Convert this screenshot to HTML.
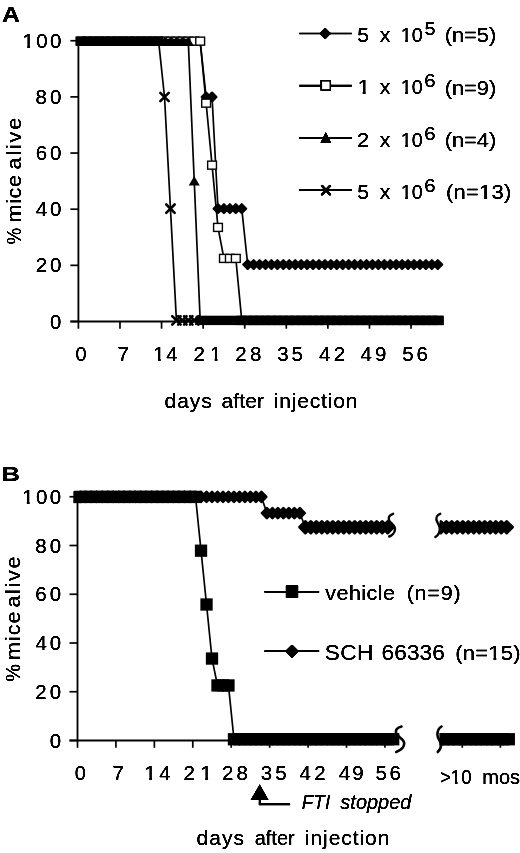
<!DOCTYPE html>
<html lang="en">
<head>
<meta charset="utf-8">
<title>Survival curves</title>
<style>
html,body{margin:0;padding:0;background:#fff;}
body{width:520px;height:853px;overflow:hidden;}
svg{display:block;}
svg text{font-family:'Liberation Sans', sans-serif;fill:#000;}
</style>
</head>
<body>
<svg width="520" height="853" viewBox="0 0 520 853">
<defs>
<filter id="bold" filterUnits="userSpaceOnUse" x="0" y="0" width="520" height="853"><feGaussianBlur stdDeviation="0.5"/><feComponentTransfer><feFuncA type="linear" slope="2.5" intercept="-0.2"/></feComponentTransfer></filter>
<clipPath id="clipR"><rect x="439.6" y="480" width="90" height="300"/></clipPath>
</defs>
<rect width="520" height="853" fill="#fff"/>
<g id="panelA">
<line x1="78.40" y1="40.25" x2="78.40" y2="322.25" stroke="#000" stroke-width="1.85"/>
<line x1="70.40" y1="321.50" x2="440.74" y2="321.50" stroke="#000" stroke-width="1.85"/>
<line x1="70.40" y1="321.50" x2="78.40" y2="321.50" stroke="#000" stroke-width="1.7"/>
<line x1="70.40" y1="265.35" x2="78.40" y2="265.35" stroke="#000" stroke-width="1.7"/>
<line x1="70.40" y1="209.20" x2="78.40" y2="209.20" stroke="#000" stroke-width="1.7"/>
<line x1="70.40" y1="153.05" x2="78.40" y2="153.05" stroke="#000" stroke-width="1.7"/>
<line x1="70.40" y1="96.90" x2="78.40" y2="96.90" stroke="#000" stroke-width="1.7"/>
<line x1="70.40" y1="40.75" x2="78.40" y2="40.75" stroke="#000" stroke-width="1.7"/>
<line x1="78.40" y1="321.50" x2="78.40" y2="328.70" stroke="#000" stroke-width="1.7"/>
<line x1="119.98" y1="321.50" x2="119.98" y2="328.70" stroke="#000" stroke-width="1.7"/>
<line x1="161.56" y1="321.50" x2="161.56" y2="328.70" stroke="#000" stroke-width="1.7"/>
<line x1="203.14" y1="321.50" x2="203.14" y2="328.70" stroke="#000" stroke-width="1.7"/>
<line x1="244.72" y1="321.50" x2="244.72" y2="328.70" stroke="#000" stroke-width="1.7"/>
<line x1="286.30" y1="321.50" x2="286.30" y2="328.70" stroke="#000" stroke-width="1.7"/>
<line x1="327.88" y1="321.50" x2="327.88" y2="328.70" stroke="#000" stroke-width="1.7"/>
<line x1="369.46" y1="321.50" x2="369.46" y2="328.70" stroke="#000" stroke-width="1.7"/>
<line x1="411.04" y1="321.50" x2="411.04" y2="328.70" stroke="#000" stroke-width="1.7"/>
<polyline points="81.37,41.15 87.31,41.15 93.25,41.15 99.19,41.15 105.13,41.15 111.07,41.15 117.01,41.15 122.95,41.15 128.89,41.15 134.83,41.15 140.77,41.15 146.71,41.15 152.65,41.15 158.59,41.15 164.53,41.15 170.47,41.15 176.41,41.15 182.35,41.15 188.29,41.15 194.23,41.15 200.17,41.15 206.11,97.00 212.05,97.00 217.99,208.70 223.93,208.70 229.87,208.70 235.81,208.70 241.75,208.70 247.69,264.55 253.63,264.55 259.57,264.55 265.51,264.55 271.45,264.55 277.39,264.55 283.33,264.55 289.27,264.55 295.21,264.55 301.15,264.55 307.09,264.55 313.03,264.55 318.97,264.55 324.91,264.55 330.85,264.55 336.79,264.55 342.73,264.55 348.67,264.55 354.61,264.55 360.55,264.55 366.49,264.55 372.43,264.55 378.37,264.55 384.31,264.55 390.25,264.55 396.19,264.55 402.13,264.55 408.07,264.55 414.01,264.55 419.95,264.55 425.89,264.55 431.83,264.55 437.77,264.55" fill="none" stroke="#000" stroke-width="1.7"/>
<path d="M201.77 97.00L206.11 92.65L210.46 97.00L206.11 101.34Z" stroke="#000" stroke-width="2.31" stroke-linejoin="round"/>
<path d="M207.71 97.00L212.05 92.65L216.40 97.00L212.05 101.34Z" stroke="#000" stroke-width="2.31" stroke-linejoin="round"/>
<path d="M213.65 208.70L217.99 204.35L222.34 208.70L217.99 213.04Z" stroke="#000" stroke-width="2.31" stroke-linejoin="round"/>
<path d="M219.59 208.70L223.93 204.35L228.28 208.70L223.93 213.04Z" stroke="#000" stroke-width="2.31" stroke-linejoin="round"/>
<path d="M225.53 208.70L229.87 204.35L234.22 208.70L229.87 213.04Z" stroke="#000" stroke-width="2.31" stroke-linejoin="round"/>
<path d="M231.47 208.70L235.81 204.35L240.16 208.70L235.81 213.04Z" stroke="#000" stroke-width="2.31" stroke-linejoin="round"/>
<path d="M237.41 208.70L241.75 204.35L246.10 208.70L241.75 213.04Z" stroke="#000" stroke-width="2.31" stroke-linejoin="round"/>
<path d="M243.35 264.55L247.69 260.20L252.04 264.55L247.69 268.89Z" stroke="#000" stroke-width="2.31" stroke-linejoin="round"/>
<path d="M249.29 264.55L253.63 260.20L257.98 264.55L253.63 268.89Z" stroke="#000" stroke-width="2.31" stroke-linejoin="round"/>
<path d="M255.23 264.55L259.57 260.20L263.92 264.55L259.57 268.89Z" stroke="#000" stroke-width="2.31" stroke-linejoin="round"/>
<path d="M261.16 264.55L265.51 260.20L269.86 264.55L265.51 268.89Z" stroke="#000" stroke-width="2.31" stroke-linejoin="round"/>
<path d="M267.11 264.55L271.45 260.20L275.80 264.55L271.45 268.89Z" stroke="#000" stroke-width="2.31" stroke-linejoin="round"/>
<path d="M273.04 264.55L277.39 260.20L281.74 264.55L277.39 268.89Z" stroke="#000" stroke-width="2.31" stroke-linejoin="round"/>
<path d="M278.99 264.55L283.33 260.20L287.68 264.55L283.33 268.89Z" stroke="#000" stroke-width="2.31" stroke-linejoin="round"/>
<path d="M284.92 264.55L289.27 260.20L293.62 264.55L289.27 268.89Z" stroke="#000" stroke-width="2.31" stroke-linejoin="round"/>
<path d="M290.87 264.55L295.21 260.20L299.56 264.55L295.21 268.89Z" stroke="#000" stroke-width="2.31" stroke-linejoin="round"/>
<path d="M296.81 264.55L301.15 260.20L305.50 264.55L301.15 268.89Z" stroke="#000" stroke-width="2.31" stroke-linejoin="round"/>
<path d="M302.75 264.55L307.09 260.20L311.44 264.55L307.09 268.89Z" stroke="#000" stroke-width="2.31" stroke-linejoin="round"/>
<path d="M308.69 264.55L313.03 260.20L317.38 264.55L313.03 268.89Z" stroke="#000" stroke-width="2.31" stroke-linejoin="round"/>
<path d="M314.62 264.55L318.97 260.20L323.32 264.55L318.97 268.89Z" stroke="#000" stroke-width="2.31" stroke-linejoin="round"/>
<path d="M320.56 264.55L324.91 260.20L329.26 264.55L324.91 268.89Z" stroke="#000" stroke-width="2.31" stroke-linejoin="round"/>
<path d="M326.50 264.55L330.85 260.20L335.20 264.55L330.85 268.89Z" stroke="#000" stroke-width="2.31" stroke-linejoin="round"/>
<path d="M332.45 264.55L336.79 260.20L341.14 264.55L336.79 268.89Z" stroke="#000" stroke-width="2.31" stroke-linejoin="round"/>
<path d="M338.38 264.55L342.73 260.20L347.08 264.55L342.73 268.89Z" stroke="#000" stroke-width="2.31" stroke-linejoin="round"/>
<path d="M344.33 264.55L348.67 260.20L353.02 264.55L348.67 268.89Z" stroke="#000" stroke-width="2.31" stroke-linejoin="round"/>
<path d="M350.26 264.55L354.61 260.20L358.96 264.55L354.61 268.89Z" stroke="#000" stroke-width="2.31" stroke-linejoin="round"/>
<path d="M356.21 264.55L360.55 260.20L364.90 264.55L360.55 268.89Z" stroke="#000" stroke-width="2.31" stroke-linejoin="round"/>
<path d="M362.14 264.55L366.49 260.20L370.84 264.55L366.49 268.89Z" stroke="#000" stroke-width="2.31" stroke-linejoin="round"/>
<path d="M368.09 264.55L372.43 260.20L376.78 264.55L372.43 268.89Z" stroke="#000" stroke-width="2.31" stroke-linejoin="round"/>
<path d="M374.02 264.55L378.37 260.20L382.72 264.55L378.37 268.89Z" stroke="#000" stroke-width="2.31" stroke-linejoin="round"/>
<path d="M379.97 264.55L384.31 260.20L388.66 264.55L384.31 268.89Z" stroke="#000" stroke-width="2.31" stroke-linejoin="round"/>
<path d="M385.90 264.55L390.25 260.20L394.60 264.55L390.25 268.89Z" stroke="#000" stroke-width="2.31" stroke-linejoin="round"/>
<path d="M391.85 264.55L396.19 260.20L400.54 264.55L396.19 268.89Z" stroke="#000" stroke-width="2.31" stroke-linejoin="round"/>
<path d="M397.78 264.55L402.13 260.20L406.48 264.55L402.13 268.89Z" stroke="#000" stroke-width="2.31" stroke-linejoin="round"/>
<path d="M403.73 264.55L408.07 260.20L412.42 264.55L408.07 268.89Z" stroke="#000" stroke-width="2.31" stroke-linejoin="round"/>
<path d="M409.66 264.55L414.01 260.20L418.36 264.55L414.01 268.89Z" stroke="#000" stroke-width="2.31" stroke-linejoin="round"/>
<path d="M415.61 264.55L419.95 260.20L424.30 264.55L419.95 268.89Z" stroke="#000" stroke-width="2.31" stroke-linejoin="round"/>
<path d="M421.54 264.55L425.89 260.20L430.24 264.55L425.89 268.89Z" stroke="#000" stroke-width="2.31" stroke-linejoin="round"/>
<path d="M427.49 264.55L431.83 260.20L436.18 264.55L431.83 268.89Z" stroke="#000" stroke-width="2.31" stroke-linejoin="round"/>
<path d="M433.42 264.55L437.77 260.20L442.12 264.55L437.77 268.89Z" stroke="#000" stroke-width="2.31" stroke-linejoin="round"/>
<polyline points="81.37,41.15 87.31,41.15 93.25,41.15 99.19,41.15 105.13,41.15 111.07,41.15 117.01,41.15 122.95,41.15 128.89,41.15 134.83,41.15 140.77,41.15 146.71,41.15 152.65,41.15 158.59,41.15 164.53,41.15 170.47,41.15 176.41,41.15 182.35,41.15 188.29,41.15 194.23,41.15 200.17,41.15 206.11,103.14 212.05,165.14 217.99,227.41 223.93,258.41 229.87,258.41 235.81,258.41 241.75,320.40 247.69,320.40 253.63,320.40 259.57,320.40 265.51,320.40 271.45,320.40 277.39,320.40 283.33,320.40 289.27,320.40 295.21,320.40 301.15,320.40 307.09,320.40 313.03,320.40 318.97,320.40 324.91,320.40 330.85,320.40 336.79,320.40 342.73,320.40 348.67,320.40 354.61,320.40 360.55,320.40 366.49,320.40 372.43,320.40 378.37,320.40 384.31,320.40 390.25,320.40 396.19,320.40 402.13,320.40 408.07,320.40 414.01,320.40 419.95,320.40 425.89,320.40 431.83,320.40 437.77,320.40" fill="none" stroke="#000" stroke-width="1.7"/>
<rect x="76.97" y="37.15" width="8.80" height="8.00" fill="#fff" stroke="#000" stroke-width="1.4"/>
<rect x="82.91" y="37.15" width="8.80" height="8.00" fill="#fff" stroke="#000" stroke-width="1.4"/>
<rect x="88.85" y="37.15" width="8.80" height="8.00" fill="#fff" stroke="#000" stroke-width="1.4"/>
<rect x="94.79" y="37.15" width="8.80" height="8.00" fill="#fff" stroke="#000" stroke-width="1.4"/>
<rect x="100.73" y="37.15" width="8.80" height="8.00" fill="#fff" stroke="#000" stroke-width="1.4"/>
<rect x="106.67" y="37.15" width="8.80" height="8.00" fill="#fff" stroke="#000" stroke-width="1.4"/>
<rect x="112.61" y="37.15" width="8.80" height="8.00" fill="#fff" stroke="#000" stroke-width="1.4"/>
<rect x="118.55" y="37.15" width="8.80" height="8.00" fill="#fff" stroke="#000" stroke-width="1.4"/>
<rect x="124.49" y="37.15" width="8.80" height="8.00" fill="#fff" stroke="#000" stroke-width="1.4"/>
<rect x="130.43" y="37.15" width="8.80" height="8.00" fill="#fff" stroke="#000" stroke-width="1.4"/>
<rect x="136.37" y="37.15" width="8.80" height="8.00" fill="#fff" stroke="#000" stroke-width="1.4"/>
<rect x="142.31" y="37.15" width="8.80" height="8.00" fill="#fff" stroke="#000" stroke-width="1.4"/>
<rect x="148.25" y="37.15" width="8.80" height="8.00" fill="#fff" stroke="#000" stroke-width="1.4"/>
<rect x="154.19" y="37.15" width="8.80" height="8.00" fill="#fff" stroke="#000" stroke-width="1.4"/>
<rect x="160.13" y="37.15" width="8.80" height="8.00" fill="#fff" stroke="#000" stroke-width="1.4"/>
<rect x="166.07" y="37.15" width="8.80" height="8.00" fill="#fff" stroke="#000" stroke-width="1.4"/>
<rect x="172.01" y="37.15" width="8.80" height="8.00" fill="#fff" stroke="#000" stroke-width="1.4"/>
<rect x="177.95" y="37.15" width="8.80" height="8.00" fill="#fff" stroke="#000" stroke-width="1.4"/>
<rect x="183.89" y="37.15" width="8.80" height="8.00" fill="#fff" stroke="#000" stroke-width="1.4"/>
<rect x="189.83" y="37.15" width="8.80" height="8.00" fill="#fff" stroke="#000" stroke-width="1.4"/>
<rect x="195.77" y="37.15" width="8.80" height="8.00" fill="#fff" stroke="#000" stroke-width="1.4"/>
<rect x="201.71" y="99.14" width="8.80" height="8.00" fill="#fff" stroke="#000" stroke-width="1.4"/>
<rect x="207.65" y="161.14" width="8.80" height="8.00" fill="#fff" stroke="#000" stroke-width="1.4"/>
<rect x="213.59" y="223.41" width="8.80" height="8.00" fill="#fff" stroke="#000" stroke-width="1.4"/>
<rect x="219.53" y="254.41" width="8.80" height="8.00" fill="#fff" stroke="#000" stroke-width="1.4"/>
<rect x="225.47" y="254.41" width="8.80" height="8.00" fill="#fff" stroke="#000" stroke-width="1.4"/>
<rect x="231.41" y="254.41" width="8.80" height="8.00" fill="#fff" stroke="#000" stroke-width="1.4"/>
<rect x="237.35" y="316.40" width="8.80" height="8.00" fill="#fff" stroke="#000" stroke-width="1.4"/>
<rect x="243.29" y="316.40" width="8.80" height="8.00" fill="#fff" stroke="#000" stroke-width="1.4"/>
<rect x="249.23" y="316.40" width="8.80" height="8.00" fill="#fff" stroke="#000" stroke-width="1.4"/>
<rect x="255.17" y="316.40" width="8.80" height="8.00" fill="#fff" stroke="#000" stroke-width="1.4"/>
<rect x="261.11" y="316.40" width="8.80" height="8.00" fill="#fff" stroke="#000" stroke-width="1.4"/>
<rect x="267.05" y="316.40" width="8.80" height="8.00" fill="#fff" stroke="#000" stroke-width="1.4"/>
<rect x="272.99" y="316.40" width="8.80" height="8.00" fill="#fff" stroke="#000" stroke-width="1.4"/>
<rect x="278.93" y="316.40" width="8.80" height="8.00" fill="#fff" stroke="#000" stroke-width="1.4"/>
<rect x="284.87" y="316.40" width="8.80" height="8.00" fill="#fff" stroke="#000" stroke-width="1.4"/>
<rect x="290.81" y="316.40" width="8.80" height="8.00" fill="#fff" stroke="#000" stroke-width="1.4"/>
<rect x="296.75" y="316.40" width="8.80" height="8.00" fill="#fff" stroke="#000" stroke-width="1.4"/>
<rect x="302.69" y="316.40" width="8.80" height="8.00" fill="#fff" stroke="#000" stroke-width="1.4"/>
<rect x="308.63" y="316.40" width="8.80" height="8.00" fill="#fff" stroke="#000" stroke-width="1.4"/>
<rect x="314.57" y="316.40" width="8.80" height="8.00" fill="#fff" stroke="#000" stroke-width="1.4"/>
<rect x="320.51" y="316.40" width="8.80" height="8.00" fill="#fff" stroke="#000" stroke-width="1.4"/>
<rect x="326.45" y="316.40" width="8.80" height="8.00" fill="#fff" stroke="#000" stroke-width="1.4"/>
<rect x="332.39" y="316.40" width="8.80" height="8.00" fill="#fff" stroke="#000" stroke-width="1.4"/>
<rect x="338.33" y="316.40" width="8.80" height="8.00" fill="#fff" stroke="#000" stroke-width="1.4"/>
<rect x="344.27" y="316.40" width="8.80" height="8.00" fill="#fff" stroke="#000" stroke-width="1.4"/>
<rect x="350.21" y="316.40" width="8.80" height="8.00" fill="#fff" stroke="#000" stroke-width="1.4"/>
<rect x="356.15" y="316.40" width="8.80" height="8.00" fill="#fff" stroke="#000" stroke-width="1.4"/>
<rect x="362.09" y="316.40" width="8.80" height="8.00" fill="#fff" stroke="#000" stroke-width="1.4"/>
<rect x="368.03" y="316.40" width="8.80" height="8.00" fill="#fff" stroke="#000" stroke-width="1.4"/>
<rect x="373.97" y="316.40" width="8.80" height="8.00" fill="#fff" stroke="#000" stroke-width="1.4"/>
<rect x="379.91" y="316.40" width="8.80" height="8.00" fill="#fff" stroke="#000" stroke-width="1.4"/>
<rect x="385.85" y="316.40" width="8.80" height="8.00" fill="#fff" stroke="#000" stroke-width="1.4"/>
<rect x="391.79" y="316.40" width="8.80" height="8.00" fill="#fff" stroke="#000" stroke-width="1.4"/>
<rect x="397.73" y="316.40" width="8.80" height="8.00" fill="#fff" stroke="#000" stroke-width="1.4"/>
<rect x="403.67" y="316.40" width="8.80" height="8.00" fill="#fff" stroke="#000" stroke-width="1.4"/>
<rect x="409.61" y="316.40" width="8.80" height="8.00" fill="#fff" stroke="#000" stroke-width="1.4"/>
<rect x="415.55" y="316.40" width="8.80" height="8.00" fill="#fff" stroke="#000" stroke-width="1.4"/>
<rect x="421.49" y="316.40" width="8.80" height="8.00" fill="#fff" stroke="#000" stroke-width="1.4"/>
<rect x="427.43" y="316.40" width="8.80" height="8.00" fill="#fff" stroke="#000" stroke-width="1.4"/>
<rect x="433.37" y="316.40" width="8.80" height="8.00" fill="#fff" stroke="#000" stroke-width="1.4"/>
<polyline points="81.37,41.15 87.31,41.15 93.25,41.15 99.19,41.15 105.13,41.15 111.07,41.15 117.01,41.15 122.95,41.15 128.89,41.15 134.83,41.15 140.77,41.15 146.71,41.15 152.65,41.15 158.59,41.15 164.53,41.15 170.47,41.15 176.41,41.15 182.35,41.15 188.29,41.15 194.23,180.77 200.17,320.40 206.11,320.40 212.05,320.40 217.99,320.40 223.93,320.40 229.87,320.40 235.81,320.40 241.75,320.40 247.69,320.40 253.63,320.40 259.57,320.40 265.51,320.40 271.45,320.40 277.39,320.40 283.33,320.40 289.27,320.40 295.21,320.40 301.15,320.40 307.09,320.40 313.03,320.40 318.97,320.40 324.91,320.40 330.85,320.40 336.79,320.40 342.73,320.40 348.67,320.40 354.61,320.40 360.55,320.40 366.49,320.40 372.43,320.40 378.37,320.40 384.31,320.40 390.25,320.40 396.19,320.40 402.13,320.40 408.07,320.40 414.01,320.40 419.95,320.40 425.89,320.40 431.83,320.40 437.77,320.40" fill="none" stroke="#000" stroke-width="1.7"/>
<path d="M75.87 45.85L81.37 36.45L86.87 45.85Z"/>
<path d="M81.81 45.85L87.31 36.45L92.81 45.85Z"/>
<path d="M87.75 45.85L93.25 36.45L98.75 45.85Z"/>
<path d="M93.69 45.85L99.19 36.45L104.69 45.85Z"/>
<path d="M99.63 45.85L105.13 36.45L110.63 45.85Z"/>
<path d="M105.57 45.85L111.07 36.45L116.57 45.85Z"/>
<path d="M111.51 45.85L117.01 36.45L122.51 45.85Z"/>
<path d="M117.45 45.85L122.95 36.45L128.45 45.85Z"/>
<path d="M123.39 45.85L128.89 36.45L134.39 45.85Z"/>
<path d="M129.33 45.85L134.83 36.45L140.33 45.85Z"/>
<path d="M135.27 45.85L140.77 36.45L146.27 45.85Z"/>
<path d="M141.21 45.85L146.71 36.45L152.21 45.85Z"/>
<path d="M147.15 45.85L152.65 36.45L158.15 45.85Z"/>
<path d="M153.09 45.85L158.59 36.45L164.09 45.85Z"/>
<path d="M159.03 45.85L164.53 36.45L170.03 45.85Z"/>
<path d="M164.97 45.85L170.47 36.45L175.97 45.85Z"/>
<path d="M170.91 45.85L176.41 36.45L181.91 45.85Z"/>
<path d="M176.85 45.85L182.35 36.45L187.85 45.85Z"/>
<path d="M182.79 45.85L188.29 36.45L193.79 45.85Z"/>
<path d="M188.73 185.47L194.23 176.07L199.73 185.47Z"/>
<path d="M194.67 325.10L200.17 315.70L205.67 325.10Z"/>
<path d="M200.61 325.10L206.11 315.70L211.61 325.10Z"/>
<path d="M206.55 325.10L212.05 315.70L217.55 325.10Z"/>
<path d="M212.49 325.10L217.99 315.70L223.49 325.10Z"/>
<path d="M218.43 325.10L223.93 315.70L229.43 325.10Z"/>
<path d="M224.37 325.10L229.87 315.70L235.37 325.10Z"/>
<path d="M230.31 325.10L235.81 315.70L241.31 325.10Z"/>
<path d="M236.25 325.10L241.75 315.70L247.25 325.10Z"/>
<path d="M242.19 325.10L247.69 315.70L253.19 325.10Z"/>
<path d="M248.13 325.10L253.63 315.70L259.13 325.10Z"/>
<path d="M254.07 325.10L259.57 315.70L265.07 325.10Z"/>
<path d="M260.01 325.10L265.51 315.70L271.01 325.10Z"/>
<path d="M265.95 325.10L271.45 315.70L276.95 325.10Z"/>
<path d="M271.89 325.10L277.39 315.70L282.89 325.10Z"/>
<path d="M277.83 325.10L283.33 315.70L288.83 325.10Z"/>
<path d="M283.77 325.10L289.27 315.70L294.77 325.10Z"/>
<path d="M289.71 325.10L295.21 315.70L300.71 325.10Z"/>
<path d="M295.65 325.10L301.15 315.70L306.65 325.10Z"/>
<path d="M301.59 325.10L307.09 315.70L312.59 325.10Z"/>
<path d="M307.53 325.10L313.03 315.70L318.53 325.10Z"/>
<path d="M313.47 325.10L318.97 315.70L324.47 325.10Z"/>
<path d="M319.41 325.10L324.91 315.70L330.41 325.10Z"/>
<path d="M325.35 325.10L330.85 315.70L336.35 325.10Z"/>
<path d="M331.29 325.10L336.79 315.70L342.29 325.10Z"/>
<path d="M337.23 325.10L342.73 315.70L348.23 325.10Z"/>
<path d="M343.17 325.10L348.67 315.70L354.17 325.10Z"/>
<path d="M349.11 325.10L354.61 315.70L360.11 325.10Z"/>
<path d="M355.05 325.10L360.55 315.70L366.05 325.10Z"/>
<path d="M360.99 325.10L366.49 315.70L371.99 325.10Z"/>
<path d="M366.93 325.10L372.43 315.70L377.93 325.10Z"/>
<path d="M372.87 325.10L378.37 315.70L383.87 325.10Z"/>
<path d="M378.81 325.10L384.31 315.70L389.81 325.10Z"/>
<path d="M384.75 325.10L390.25 315.70L395.75 325.10Z"/>
<path d="M390.69 325.10L396.19 315.70L401.69 325.10Z"/>
<path d="M396.63 325.10L402.13 315.70L407.63 325.10Z"/>
<path d="M402.57 325.10L408.07 315.70L413.57 325.10Z"/>
<path d="M408.51 325.10L414.01 315.70L419.51 325.10Z"/>
<path d="M414.45 325.10L419.95 315.70L425.45 325.10Z"/>
<path d="M420.39 325.10L425.89 315.70L431.39 325.10Z"/>
<path d="M426.33 325.10L431.83 315.70L437.33 325.10Z"/>
<path d="M432.27 325.10L437.77 315.70L443.27 325.10Z"/>
<polyline points="81.37,41.15 87.31,41.15 93.25,41.15 99.19,41.15 105.13,41.15 111.07,41.15 117.01,41.15 122.95,41.15 128.89,41.15 134.83,41.15 140.77,41.15 146.71,41.15 152.65,41.15 158.59,41.15 164.53,97.00 170.47,208.70 176.41,320.40 182.35,320.40 188.29,320.40 194.23,320.40 200.17,320.40 206.11,320.40 212.05,320.40 217.99,320.40 223.93,320.40 229.87,320.40 235.81,320.40 241.75,320.40 247.69,320.40 253.63,320.40 259.57,320.40 265.51,320.40 271.45,320.40 277.39,320.40 283.33,320.40 289.27,320.40 295.21,320.40 301.15,320.40 307.09,320.40 313.03,320.40 318.97,320.40 324.91,320.40 330.85,320.40 336.79,320.40 342.73,320.40 348.67,320.40 354.61,320.40 360.55,320.40 366.49,320.40 372.43,320.40 378.37,320.40 384.31,320.40 390.25,320.40 396.19,320.40 402.13,320.40 408.07,320.40 414.01,320.40 419.95,320.40 425.89,320.40 431.83,320.40 437.77,320.40" fill="none" stroke="#000" stroke-width="1.7"/>
<path d="M160.33 92.80L168.73 101.20M160.33 101.20L168.73 92.80" stroke="#000" stroke-width="2.6" stroke-linecap="round" fill="none"/>
<path d="M166.27 204.50L174.67 212.90M166.27 212.90L174.67 204.50" stroke="#000" stroke-width="2.6" stroke-linecap="round" fill="none"/>
<path d="M172.21 316.20L180.61 324.60M172.21 324.60L180.61 316.20" stroke="#000" stroke-width="2.6" stroke-linecap="round" fill="none"/>
<path d="M178.15 316.20L186.55 324.60M178.15 324.60L186.55 316.20" stroke="#000" stroke-width="2.6" stroke-linecap="round" fill="none"/>
<path d="M184.09 316.20L192.49 324.60M184.09 324.60L192.49 316.20" stroke="#000" stroke-width="2.6" stroke-linecap="round" fill="none"/>
<path d="M190.03 316.20L198.43 324.60M190.03 324.60L198.43 316.20" stroke="#000" stroke-width="2.6" stroke-linecap="round" fill="none"/>
<rect x="75.4" y="36.5" width="87.69" height="9.3"/>
<rect x="158.59" y="38.6" width="30.70" height="7.2"/>
<rect x="195.67" y="315.7" width="248.23" height="9.4"/>
</g>
<g id="labelsA" filter="url(#bold)">
<text transform="translate(1.88 22.00) scale(1.1578 1)" font-size="21.5" font-weight="bold">A</text>
<text transform="translate(50.01 328.60) scale(1.0406 1)" font-size="19.5">0</text>
<text transform="translate(35.67 272.45) scale(1.0500 1)" font-size="19.5" letter-spacing="2.719">20</text>
<text transform="translate(35.83 216.30) scale(1.0500 1)" font-size="19.5" letter-spacing="2.567">40</text>
<text transform="translate(35.66 160.15) scale(1.0500 1)" font-size="19.5" letter-spacing="2.729">60</text>
<text transform="translate(35.61 104.00) scale(1.0500 1)" font-size="19.5" letter-spacing="2.776">80</text>
<text transform="translate(22.53 47.85) scale(1.0500 1)" font-size="19.5" letter-spacing="2.194">100</text>
<text transform="translate(75.52 360.80) scale(1.0191 1)" font-size="19.5">0</text>
<text transform="translate(117.43 360.80) scale(1.0717 1)" font-size="19.5">7</text>
<text transform="translate(153.33 360.80) scale(1.0500 1)" font-size="19.5" letter-spacing="1.424">14</text>
<text transform="translate(193.47 360.80) scale(1.0500 1)" font-size="19.5" letter-spacing="4.937">21</text>
<text transform="translate(235.27 360.80) scale(1.0500 1)" font-size="19.5" letter-spacing="3.186">28</text>
<text transform="translate(277.22 360.80) scale(1.0500 1)" font-size="19.5" letter-spacing="2.729">35</text>
<text transform="translate(319.03 360.80) scale(1.0500 1)" font-size="19.5" letter-spacing="3.072">42</text>
<text transform="translate(360.53 360.80) scale(1.0500 1)" font-size="19.5" letter-spacing="3.014">49</text>
<text transform="translate(402.18 360.80) scale(1.0500 1)" font-size="19.5" letter-spacing="2.805">56</text>
<text transform="translate(164.62 408.10) scale(1.0500 1)" font-size="20" letter-spacing="0.883">days</text>
<text transform="translate(221.61 408.10) scale(1.0500 1)" font-size="20" letter-spacing="0.076">after</text>
<text transform="translate(273.60 408.10) scale(1.0500 1)" font-size="20" letter-spacing="0.824">injection</text>
<text transform="translate(20.60 244.15) rotate(-90) scale(0.8946 1)" font-size="20.5">%</text>
<text transform="translate(20.60 222.43) rotate(-90) scale(1.0500 1)" font-size="20.5" letter-spacing="0.616">mice</text>
<text transform="translate(20.60 169.41) rotate(-90) scale(1.0500 1)" font-size="20.5" letter-spacing="1.738">alive</text>
</g>
<g id="legendA" filter="url(#bold)">
<line x1="299.20" y1="33.50" x2="351.80" y2="33.50" stroke="#000" stroke-width="1.7"/>
<path d="M321.04 33.50L325.30 29.23L329.56 33.50L325.30 37.77Z" stroke="#000" stroke-width="2.27" stroke-linejoin="round"/>
<text transform="translate(357.16 42.00) scale(1.0546 1)" font-size="20">5</text>
<text transform="translate(379.76 42.00) scale(1.0669 1)" font-size="20">x</text>
<text transform="translate(400.71 42.00) scale(0.9825 1)" font-size="20">10</text>
<text transform="translate(424.51 34.70) scale(1.1015 1)" font-size="18">5</text>
<text transform="translate(444.64 42.20) scale(1.0425 1)" font-size="21">(n=5)</text>
<line x1="299.20" y1="85.60" x2="351.80" y2="85.60" stroke="#000" stroke-width="1.7"/>
<rect x="321.30" y="80.90" width="9.00" height="9.00" fill="#fff" stroke="#000" stroke-width="1.6"/>
<text transform="translate(357.39 94.40) scale(1.1500 1)" font-size="20">1</text>
<text transform="translate(379.76 94.40) scale(1.0669 1)" font-size="20">x</text>
<text transform="translate(400.71 94.40) scale(0.9825 1)" font-size="20">10</text>
<text transform="translate(424.27 87.10) scale(1.1318 1)" font-size="18">6</text>
<text transform="translate(444.64 94.60) scale(1.0425 1)" font-size="21">(n=9)</text>
<line x1="299.20" y1="137.80" x2="351.80" y2="137.80" stroke="#000" stroke-width="1.7"/>
<path d="M320.40 142.70L325.80 131.90L331.20 142.70Z"/>
<text transform="translate(356.90 146.80) scale(1.0975 1)" font-size="20">2</text>
<text transform="translate(379.76 146.80) scale(1.0669 1)" font-size="20">x</text>
<text transform="translate(400.71 146.80) scale(0.9825 1)" font-size="20">10</text>
<text transform="translate(424.27 139.50) scale(1.1318 1)" font-size="18">6</text>
<text transform="translate(444.64 147.00) scale(1.0425 1)" font-size="21">(n=4)</text>
<line x1="299.20" y1="190.00" x2="351.80" y2="190.00" stroke="#000" stroke-width="1.7"/>
<path d="M322.00 185.90L330.00 194.30M322.00 194.30L330.00 185.90" stroke="#000" stroke-width="2.4" stroke-linecap="round" fill="none"/>
<text transform="translate(357.16 199.20) scale(1.0546 1)" font-size="20">5</text>
<text transform="translate(379.76 199.20) scale(1.0669 1)" font-size="20">x</text>
<text transform="translate(400.71 199.20) scale(0.9825 1)" font-size="20">10</text>
<text transform="translate(424.27 191.90) scale(1.1318 1)" font-size="18">6</text>
<text transform="translate(445.93 199.40) scale(1.0500 1)" font-size="21" letter-spacing="0.206">(n=13)</text>
</g>
<g id="panelB">
<line x1="77.50" y1="496.25" x2="77.50" y2="741.25" stroke="#000" stroke-width="1.85"/>
<line x1="69.50" y1="740.50" x2="399.00" y2="740.50" stroke="#000" stroke-width="1.85"/>
<line x1="440.00" y1="740.50" x2="512.00" y2="740.50" stroke="#000" stroke-width="1.85"/>
<line x1="69.50" y1="740.50" x2="77.50" y2="740.50" stroke="#000" stroke-width="1.7"/>
<line x1="69.50" y1="691.75" x2="77.50" y2="691.75" stroke="#000" stroke-width="1.7"/>
<line x1="69.50" y1="643.00" x2="77.50" y2="643.00" stroke="#000" stroke-width="1.7"/>
<line x1="69.50" y1="594.25" x2="77.50" y2="594.25" stroke="#000" stroke-width="1.7"/>
<line x1="69.50" y1="545.50" x2="77.50" y2="545.50" stroke="#000" stroke-width="1.7"/>
<line x1="69.50" y1="496.75" x2="77.50" y2="496.75" stroke="#000" stroke-width="1.7"/>
<line x1="77.50" y1="740.50" x2="77.50" y2="747.80" stroke="#000" stroke-width="1.7"/>
<line x1="115.93" y1="740.50" x2="115.93" y2="747.80" stroke="#000" stroke-width="1.7"/>
<line x1="154.36" y1="740.50" x2="154.36" y2="747.80" stroke="#000" stroke-width="1.7"/>
<line x1="192.79" y1="740.50" x2="192.79" y2="747.80" stroke="#000" stroke-width="1.7"/>
<line x1="231.22" y1="740.50" x2="231.22" y2="747.80" stroke="#000" stroke-width="1.7"/>
<line x1="269.65" y1="740.50" x2="269.65" y2="747.80" stroke="#000" stroke-width="1.7"/>
<line x1="308.08" y1="740.50" x2="308.08" y2="747.80" stroke="#000" stroke-width="1.7"/>
<line x1="346.51" y1="740.50" x2="346.51" y2="747.80" stroke="#000" stroke-width="1.7"/>
<line x1="384.94" y1="740.50" x2="384.94" y2="747.80" stroke="#000" stroke-width="1.7"/>
<line x1="462.30" y1="740.50" x2="462.30" y2="747.80" stroke="#000" stroke-width="1.7"/>
<line x1="500.40" y1="740.50" x2="500.40" y2="747.80" stroke="#000" stroke-width="1.7"/>
<polyline points="80.25,496.90 85.73,496.90 91.22,496.90 96.72,496.90 102.20,496.90 107.69,496.90 113.19,496.90 118.68,496.90 124.16,496.90 129.66,496.90 135.15,496.90 140.63,496.90 146.12,496.90 151.62,496.90 157.11,496.90 162.59,496.90 168.09,496.90 173.57,496.90 179.06,496.90 184.56,496.90 190.05,496.90 195.54,496.90 201.03,496.90 206.52,496.90 212.00,496.90 217.50,496.90 222.99,496.90 228.47,496.90 233.97,496.90 239.46,496.90 244.94,496.90 250.44,496.90 255.93,496.90 261.42,496.90 266.90,513.14 272.39,513.14 277.88,513.14 283.38,513.14 288.87,513.14 294.36,513.14 299.85,513.14 305.34,527.19 310.83,527.19 316.31,527.19 321.81,527.19 327.30,527.19 332.78,527.19 338.28,527.19 343.76,527.19 349.25,527.19 354.75,527.19 360.24,527.19 365.73,527.19 371.22,527.19 376.70,527.19 382.19,527.19 387.69,527.19" fill="none" stroke="#000" stroke-width="1.7"/>
<path d="M75.34 496.90L80.25 492.00L85.15 496.90L80.25 501.80Z" stroke="#000" stroke-width="2.6" stroke-linejoin="round"/>
<path d="M80.83 496.90L85.73 492.00L90.64 496.90L85.73 501.80Z" stroke="#000" stroke-width="2.6" stroke-linejoin="round"/>
<path d="M86.32 496.90L91.22 492.00L96.12 496.90L91.22 501.80Z" stroke="#000" stroke-width="2.6" stroke-linejoin="round"/>
<path d="M91.81 496.90L96.72 492.00L101.62 496.90L96.72 501.80Z" stroke="#000" stroke-width="2.6" stroke-linejoin="round"/>
<path d="M97.30 496.90L102.20 492.00L107.11 496.90L102.20 501.80Z" stroke="#000" stroke-width="2.6" stroke-linejoin="round"/>
<path d="M102.79 496.90L107.69 492.00L112.59 496.90L107.69 501.80Z" stroke="#000" stroke-width="2.6" stroke-linejoin="round"/>
<path d="M108.28 496.90L113.19 492.00L118.09 496.90L113.19 501.80Z" stroke="#000" stroke-width="2.6" stroke-linejoin="round"/>
<path d="M113.78 496.90L118.68 492.00L123.58 496.90L118.68 501.80Z" stroke="#000" stroke-width="2.6" stroke-linejoin="round"/>
<path d="M119.26 496.90L124.16 492.00L129.06 496.90L124.16 501.80Z" stroke="#000" stroke-width="2.6" stroke-linejoin="round"/>
<path d="M124.75 496.90L129.66 492.00L134.56 496.90L129.66 501.80Z" stroke="#000" stroke-width="2.6" stroke-linejoin="round"/>
<path d="M130.25 496.90L135.15 492.00L140.05 496.90L135.15 501.80Z" stroke="#000" stroke-width="2.6" stroke-linejoin="round"/>
<path d="M135.73 496.90L140.63 492.00L145.53 496.90L140.63 501.80Z" stroke="#000" stroke-width="2.6" stroke-linejoin="round"/>
<path d="M141.22 496.90L146.12 492.00L151.03 496.90L146.12 501.80Z" stroke="#000" stroke-width="2.6" stroke-linejoin="round"/>
<path d="M146.72 496.90L151.62 492.00L156.52 496.90L151.62 501.80Z" stroke="#000" stroke-width="2.6" stroke-linejoin="round"/>
<path d="M152.21 496.90L157.11 492.00L162.01 496.90L157.11 501.80Z" stroke="#000" stroke-width="2.6" stroke-linejoin="round"/>
<path d="M157.69 496.90L162.59 492.00L167.50 496.90L162.59 501.80Z" stroke="#000" stroke-width="2.6" stroke-linejoin="round"/>
<path d="M163.19 496.90L168.09 492.00L172.99 496.90L168.09 501.80Z" stroke="#000" stroke-width="2.6" stroke-linejoin="round"/>
<path d="M168.67 496.90L173.57 492.00L178.47 496.90L173.57 501.80Z" stroke="#000" stroke-width="2.6" stroke-linejoin="round"/>
<path d="M174.16 496.90L179.06 492.00L183.97 496.90L179.06 501.80Z" stroke="#000" stroke-width="2.6" stroke-linejoin="round"/>
<path d="M179.66 496.90L184.56 492.00L189.46 496.90L184.56 501.80Z" stroke="#000" stroke-width="2.6" stroke-linejoin="round"/>
<path d="M185.15 496.90L190.05 492.00L194.95 496.90L190.05 501.80Z" stroke="#000" stroke-width="2.6" stroke-linejoin="round"/>
<path d="M190.64 496.90L195.54 492.00L200.44 496.90L195.54 501.80Z" stroke="#000" stroke-width="2.6" stroke-linejoin="round"/>
<path d="M196.12 496.90L201.03 492.00L205.93 496.90L201.03 501.80Z" stroke="#000" stroke-width="2.6" stroke-linejoin="round"/>
<path d="M201.62 496.90L206.52 492.00L211.42 496.90L206.52 501.80Z" stroke="#000" stroke-width="2.6" stroke-linejoin="round"/>
<path d="M207.10 496.90L212.00 492.00L216.91 496.90L212.00 501.80Z" stroke="#000" stroke-width="2.6" stroke-linejoin="round"/>
<path d="M212.59 496.90L217.50 492.00L222.40 496.90L217.50 501.80Z" stroke="#000" stroke-width="2.6" stroke-linejoin="round"/>
<path d="M218.09 496.90L222.99 492.00L227.89 496.90L222.99 501.80Z" stroke="#000" stroke-width="2.6" stroke-linejoin="round"/>
<path d="M223.57 496.90L228.47 492.00L233.38 496.90L228.47 501.80Z" stroke="#000" stroke-width="2.6" stroke-linejoin="round"/>
<path d="M229.06 496.90L233.97 492.00L238.87 496.90L233.97 501.80Z" stroke="#000" stroke-width="2.6" stroke-linejoin="round"/>
<path d="M234.56 496.90L239.46 492.00L244.36 496.90L239.46 501.80Z" stroke="#000" stroke-width="2.6" stroke-linejoin="round"/>
<path d="M240.04 496.90L244.94 492.00L249.84 496.90L244.94 501.80Z" stroke="#000" stroke-width="2.6" stroke-linejoin="round"/>
<path d="M245.53 496.90L250.44 492.00L255.34 496.90L250.44 501.80Z" stroke="#000" stroke-width="2.6" stroke-linejoin="round"/>
<path d="M251.03 496.90L255.93 492.00L260.82 496.90L255.93 501.80Z" stroke="#000" stroke-width="2.6" stroke-linejoin="round"/>
<path d="M256.52 496.90L261.42 492.00L266.31 496.90L261.42 501.80Z" stroke="#000" stroke-width="2.6" stroke-linejoin="round"/>
<path d="M262.00 513.14L266.90 508.24L271.80 513.14L266.90 518.04Z" stroke="#000" stroke-width="2.6" stroke-linejoin="round"/>
<path d="M267.50 513.14L272.39 508.24L277.29 513.14L272.39 518.04Z" stroke="#000" stroke-width="2.6" stroke-linejoin="round"/>
<path d="M272.99 513.14L277.88 508.24L282.78 513.14L277.88 518.04Z" stroke="#000" stroke-width="2.6" stroke-linejoin="round"/>
<path d="M278.48 513.14L283.38 508.24L288.27 513.14L283.38 518.04Z" stroke="#000" stroke-width="2.6" stroke-linejoin="round"/>
<path d="M283.97 513.14L288.87 508.24L293.76 513.14L288.87 518.04Z" stroke="#000" stroke-width="2.6" stroke-linejoin="round"/>
<path d="M289.46 513.14L294.36 508.24L299.25 513.14L294.36 518.04Z" stroke="#000" stroke-width="2.6" stroke-linejoin="round"/>
<path d="M294.95 513.14L299.85 508.24L304.75 513.14L299.85 518.04Z" stroke="#000" stroke-width="2.6" stroke-linejoin="round"/>
<path d="M299.65 527.19L305.34 521.50L311.03 527.19L305.34 532.88Z" stroke="#000" stroke-width="3.02" stroke-linejoin="round"/>
<path d="M305.14 527.19L310.83 521.50L316.52 527.19L310.83 532.88Z" stroke="#000" stroke-width="3.02" stroke-linejoin="round"/>
<path d="M310.62 527.19L316.31 521.50L322.00 527.19L316.31 532.88Z" stroke="#000" stroke-width="3.02" stroke-linejoin="round"/>
<path d="M316.12 527.19L321.81 521.50L327.50 527.19L321.81 532.88Z" stroke="#000" stroke-width="3.02" stroke-linejoin="round"/>
<path d="M321.61 527.19L327.30 521.50L332.99 527.19L327.30 532.88Z" stroke="#000" stroke-width="3.02" stroke-linejoin="round"/>
<path d="M327.09 527.19L332.78 521.50L338.47 527.19L332.78 532.88Z" stroke="#000" stroke-width="3.02" stroke-linejoin="round"/>
<path d="M332.59 527.19L338.28 521.50L343.97 527.19L338.28 532.88Z" stroke="#000" stroke-width="3.02" stroke-linejoin="round"/>
<path d="M338.07 527.19L343.76 521.50L349.45 527.19L343.76 532.88Z" stroke="#000" stroke-width="3.02" stroke-linejoin="round"/>
<path d="M343.56 527.19L349.25 521.50L354.94 527.19L349.25 532.88Z" stroke="#000" stroke-width="3.02" stroke-linejoin="round"/>
<path d="M349.06 527.19L354.75 521.50L360.44 527.19L354.75 532.88Z" stroke="#000" stroke-width="3.02" stroke-linejoin="round"/>
<path d="M354.55 527.19L360.24 521.50L365.93 527.19L360.24 532.88Z" stroke="#000" stroke-width="3.02" stroke-linejoin="round"/>
<path d="M360.04 527.19L365.73 521.50L371.42 527.19L365.73 532.88Z" stroke="#000" stroke-width="3.02" stroke-linejoin="round"/>
<path d="M365.53 527.19L371.22 521.50L376.91 527.19L371.22 532.88Z" stroke="#000" stroke-width="3.02" stroke-linejoin="round"/>
<path d="M371.01 527.19L376.70 521.50L382.39 527.19L376.70 532.88Z" stroke="#000" stroke-width="3.02" stroke-linejoin="round"/>
<path d="M376.50 527.19L382.19 521.50L387.88 527.19L382.19 532.88Z" stroke="#000" stroke-width="3.02" stroke-linejoin="round"/>
<path d="M382.00 527.19L387.69 521.50L393.38 527.19L387.69 532.88Z" stroke="#000" stroke-width="3.02" stroke-linejoin="round"/>
<g clip-path="url(#clipR)">
<polyline points="429.84,527.19 435.33,527.19 440.82,527.19 446.31,527.19 451.80,527.19 457.29,527.19 462.78,527.19 468.27,527.19 473.76,527.19 479.25,527.19 484.74,527.19 490.23,527.19 495.72,527.19 501.21,527.19 506.70,527.19" fill="none" stroke="#000" stroke-width="1.7"/>
<path d="M424.15 527.19L429.84 521.50L435.53 527.19L429.84 532.88Z" stroke="#000" stroke-width="3.02" stroke-linejoin="round"/>
<path d="M429.64 527.19L435.33 521.50L441.02 527.19L435.33 532.88Z" stroke="#000" stroke-width="3.02" stroke-linejoin="round"/>
<path d="M435.13 527.19L440.82 521.50L446.51 527.19L440.82 532.88Z" stroke="#000" stroke-width="3.02" stroke-linejoin="round"/>
<path d="M440.62 527.19L446.31 521.50L452.00 527.19L446.31 532.88Z" stroke="#000" stroke-width="3.02" stroke-linejoin="round"/>
<path d="M446.11 527.19L451.80 521.50L457.49 527.19L451.80 532.88Z" stroke="#000" stroke-width="3.02" stroke-linejoin="round"/>
<path d="M451.60 527.19L457.29 521.50L462.98 527.19L457.29 532.88Z" stroke="#000" stroke-width="3.02" stroke-linejoin="round"/>
<path d="M457.09 527.19L462.78 521.50L468.47 527.19L462.78 532.88Z" stroke="#000" stroke-width="3.02" stroke-linejoin="round"/>
<path d="M462.58 527.19L468.27 521.50L473.96 527.19L468.27 532.88Z" stroke="#000" stroke-width="3.02" stroke-linejoin="round"/>
<path d="M468.07 527.19L473.76 521.50L479.45 527.19L473.76 532.88Z" stroke="#000" stroke-width="3.02" stroke-linejoin="round"/>
<path d="M473.56 527.19L479.25 521.50L484.94 527.19L479.25 532.88Z" stroke="#000" stroke-width="3.02" stroke-linejoin="round"/>
<path d="M479.05 527.19L484.74 521.50L490.43 527.19L484.74 532.88Z" stroke="#000" stroke-width="3.02" stroke-linejoin="round"/>
<path d="M484.54 527.19L490.23 521.50L495.92 527.19L490.23 532.88Z" stroke="#000" stroke-width="3.02" stroke-linejoin="round"/>
<path d="M490.03 527.19L495.72 521.50L501.41 527.19L495.72 532.88Z" stroke="#000" stroke-width="3.02" stroke-linejoin="round"/>
<path d="M495.52 527.19L501.21 521.50L506.90 527.19L501.21 532.88Z" stroke="#000" stroke-width="3.02" stroke-linejoin="round"/>
<path d="M501.01 527.19L506.70 521.50L512.39 527.19L506.70 532.88Z" stroke="#000" stroke-width="3.02" stroke-linejoin="round"/>
</g>
<polyline points="80.25,496.90 85.73,496.90 91.22,496.90 96.72,496.90 102.20,496.90 107.69,496.90 113.19,496.90 118.68,496.90 124.16,496.90 129.66,496.90 135.15,496.90 140.63,496.90 146.12,496.90 151.62,496.90 157.11,496.90 162.59,496.90 168.09,496.90 173.57,496.90 179.06,496.90 184.56,496.90 190.05,496.90 195.54,496.90 201.03,550.70 206.52,604.50 212.00,658.55 217.50,685.45 222.99,685.45 228.47,685.45 233.97,739.25 239.46,739.25 244.94,739.25 250.44,739.25 255.93,739.25 261.42,739.25 266.90,739.25 272.39,739.25 277.88,739.25 283.38,739.25 288.87,739.25 294.36,739.25 299.85,739.25 305.34,739.25 310.83,739.25 316.31,739.25 321.81,739.25 327.30,739.25 332.78,739.25 338.28,739.25 343.76,739.25 349.25,739.25 354.75,739.25 360.24,739.25 365.73,739.25 371.22,739.25 376.70,739.25 382.19,739.25 387.69,739.25 393.18,739.25" fill="none" stroke="#000" stroke-width="1.7"/>
<rect x="74.09" y="490.75" width="12.30" height="12.30"/>
<rect x="79.58" y="490.75" width="12.30" height="12.30"/>
<rect x="85.07" y="490.75" width="12.30" height="12.30"/>
<rect x="90.56" y="490.75" width="12.30" height="12.30"/>
<rect x="96.05" y="490.75" width="12.30" height="12.30"/>
<rect x="101.54" y="490.75" width="12.30" height="12.30"/>
<rect x="107.03" y="490.75" width="12.30" height="12.30"/>
<rect x="112.53" y="490.75" width="12.30" height="12.30"/>
<rect x="118.01" y="490.75" width="12.30" height="12.30"/>
<rect x="123.50" y="490.75" width="12.30" height="12.30"/>
<rect x="129.00" y="490.75" width="12.30" height="12.30"/>
<rect x="134.48" y="490.75" width="12.30" height="12.30"/>
<rect x="139.97" y="490.75" width="12.30" height="12.30"/>
<rect x="145.47" y="490.75" width="12.30" height="12.30"/>
<rect x="150.96" y="490.75" width="12.30" height="12.30"/>
<rect x="156.44" y="490.75" width="12.30" height="12.30"/>
<rect x="161.94" y="490.75" width="12.30" height="12.30"/>
<rect x="167.42" y="490.75" width="12.30" height="12.30"/>
<rect x="172.91" y="490.75" width="12.30" height="12.30"/>
<rect x="178.41" y="490.75" width="12.30" height="12.30"/>
<rect x="183.90" y="490.75" width="12.30" height="12.30"/>
<rect x="189.39" y="490.75" width="12.30" height="12.30"/>
<rect x="194.88" y="544.55" width="12.30" height="12.30"/>
<rect x="200.37" y="598.35" width="12.30" height="12.30"/>
<rect x="205.85" y="652.40" width="12.30" height="12.30"/>
<rect x="211.34" y="679.30" width="12.30" height="12.30"/>
<rect x="216.84" y="679.30" width="12.30" height="12.30"/>
<rect x="222.32" y="679.30" width="12.30" height="12.30"/>
<rect x="227.81" y="733.10" width="12.30" height="12.30"/>
<rect x="233.31" y="733.10" width="12.30" height="12.30"/>
<rect x="238.79" y="733.10" width="12.30" height="12.30"/>
<rect x="244.28" y="733.10" width="12.30" height="12.30"/>
<rect x="249.78" y="733.10" width="12.30" height="12.30"/>
<rect x="255.27" y="733.10" width="12.30" height="12.30"/>
<rect x="260.75" y="733.10" width="12.30" height="12.30"/>
<rect x="266.25" y="733.10" width="12.30" height="12.30"/>
<rect x="271.74" y="733.10" width="12.30" height="12.30"/>
<rect x="277.23" y="733.10" width="12.30" height="12.30"/>
<rect x="282.72" y="733.10" width="12.30" height="12.30"/>
<rect x="288.21" y="733.10" width="12.30" height="12.30"/>
<rect x="293.70" y="733.10" width="12.30" height="12.30"/>
<rect x="299.19" y="733.10" width="12.30" height="12.30"/>
<rect x="304.68" y="733.10" width="12.30" height="12.30"/>
<rect x="310.17" y="733.10" width="12.30" height="12.30"/>
<rect x="315.66" y="733.10" width="12.30" height="12.30"/>
<rect x="321.15" y="733.10" width="12.30" height="12.30"/>
<rect x="326.63" y="733.10" width="12.30" height="12.30"/>
<rect x="332.13" y="733.10" width="12.30" height="12.30"/>
<rect x="337.62" y="733.10" width="12.30" height="12.30"/>
<rect x="343.11" y="733.10" width="12.30" height="12.30"/>
<rect x="348.60" y="733.10" width="12.30" height="12.30"/>
<rect x="354.09" y="733.10" width="12.30" height="12.30"/>
<rect x="359.58" y="733.10" width="12.30" height="12.30"/>
<rect x="365.07" y="733.10" width="12.30" height="12.30"/>
<rect x="370.56" y="733.10" width="12.30" height="12.30"/>
<rect x="376.05" y="733.10" width="12.30" height="12.30"/>
<rect x="381.54" y="733.10" width="12.30" height="12.30"/>
<rect x="387.03" y="733.10" width="12.30" height="12.30"/>
<g clip-path="url(#clipR)">
<polyline points="431.94,739.25 437.43,739.25 442.92,739.25 448.41,739.25 453.90,739.25 459.39,739.25 464.88,739.25 470.37,739.25 475.86,739.25 481.35,739.25 486.84,739.25 492.33,739.25 497.82,739.25 503.31,739.25 508.80,739.25" fill="none" stroke="#000" stroke-width="1.7"/>
<rect x="425.79" y="733.10" width="12.30" height="12.30"/>
<rect x="431.28" y="733.10" width="12.30" height="12.30"/>
<rect x="436.77" y="733.10" width="12.30" height="12.30"/>
<rect x="442.26" y="733.10" width="12.30" height="12.30"/>
<rect x="447.75" y="733.10" width="12.30" height="12.30"/>
<rect x="453.24" y="733.10" width="12.30" height="12.30"/>
<rect x="458.73" y="733.10" width="12.30" height="12.30"/>
<rect x="464.22" y="733.10" width="12.30" height="12.30"/>
<rect x="469.71" y="733.10" width="12.30" height="12.30"/>
<rect x="475.20" y="733.10" width="12.30" height="12.30"/>
<rect x="480.69" y="733.10" width="12.30" height="12.30"/>
<rect x="486.18" y="733.10" width="12.30" height="12.30"/>
<rect x="491.67" y="733.10" width="12.30" height="12.30"/>
<rect x="497.16" y="733.10" width="12.30" height="12.30"/>
<rect x="502.65" y="733.10" width="12.30" height="12.30"/>
</g>
<rect x="73.3" y="491.3" width="8" height="11.8"/>
<path d="M393.1 513.8C390 514.5 388.2 517 388.8 519.5C389.5 523 395 524.5 395 529C395 532.5 392 535.5 389.2 536.5" fill="none" stroke="#000" stroke-width="2.4" stroke-linecap="round"/>
<path d="M440.2 513.8C438 514.5 436 517 436.4 519.5C437 523 439.8 525 439.8 529C439.8 532.5 437.5 535.8 435.4 537.1" fill="none" stroke="#000" stroke-width="2.4" stroke-linecap="round"/>
<path d="M401.5 726.5C398 727.5 395.4 729.5 395.9 732.5C396.8 737 404.2 738.5 404.2 743.5C404.2 747.5 400 750.5 396.2 752" fill="none" stroke="#000" stroke-width="2.6" stroke-linecap="round"/>
<path d="M441.5 726.5C439 728 437.2 731 437.4 735C437.6 739 441 741 441 745C441 748 439.5 750.5 437.7 752" fill="none" stroke="#000" stroke-width="2.6" stroke-linecap="round"/>
</g>
<g id="labelsB" filter="url(#bold)">
<text transform="translate(1.49 480.80) scale(1.2438 1)" font-size="20.5" font-weight="bold">B</text>
<text transform="translate(49.70 747.60) scale(1.0513 1)" font-size="19.5">0</text>
<text transform="translate(35.37 698.85) scale(1.0500 1)" font-size="19.5" letter-spacing="2.814">20</text>
<text transform="translate(35.53 650.10) scale(1.0500 1)" font-size="19.5" letter-spacing="2.662">40</text>
<text transform="translate(35.36 601.35) scale(1.0500 1)" font-size="19.5" letter-spacing="2.824">60</text>
<text transform="translate(35.31 552.60) scale(1.0500 1)" font-size="19.5" letter-spacing="2.872">80</text>
<text transform="translate(22.23 503.85) scale(1.0500 1)" font-size="19.5" letter-spacing="2.242">100</text>
<text transform="translate(74.72 779.80) scale(1.0191 1)" font-size="19.5">0</text>
<text transform="translate(112.43 779.80) scale(1.0717 1)" font-size="19.5">7</text>
<text transform="translate(144.53 779.80) scale(1.0500 1)" font-size="19.5" letter-spacing="3.138">14</text>
<text transform="translate(183.57 779.80) scale(1.0500 1)" font-size="19.5" letter-spacing="5.318">21</text>
<text transform="translate(221.97 779.80) scale(1.0500 1)" font-size="19.5" letter-spacing="2.995">28</text>
<text transform="translate(260.72 779.80) scale(1.0500 1)" font-size="19.5" letter-spacing="3.014">35</text>
<text transform="translate(299.53 779.80) scale(1.0500 1)" font-size="19.5" letter-spacing="3.072">42</text>
<text transform="translate(338.73 779.80) scale(1.0500 1)" font-size="19.5" letter-spacing="1.967">49</text>
<text transform="translate(375.48 779.80) scale(1.0500 1)" font-size="19.5" letter-spacing="2.519">56</text>
<text transform="translate(439.88 784.20) scale(0.9568 1)" font-size="19.5">&gt;10</text>
<text transform="translate(482.27 784.20) scale(1.0276 1)" font-size="19.5">mos</text>
<text transform="translate(196.62 845.30) scale(1.0500 1)" font-size="20" letter-spacing="0.978">days</text>
<text transform="translate(254.65 845.30) scale(1.0016 1)" font-size="20">after</text>
<text transform="translate(304.85 845.30) scale(1.0500 1)" font-size="20" letter-spacing="0.889">injection</text>
<text transform="translate(19.80 681.71) rotate(-90) scale(0.9722 1)" font-size="20.5">%</text>
<text transform="translate(19.80 660.03) rotate(-90) scale(1.0500 1)" font-size="20.5" letter-spacing="0.965">mice</text>
<text transform="translate(19.80 607.61) rotate(-90) scale(1.0500 1)" font-size="20.5" letter-spacing="1.619">alive</text>
<path d="M259.7 784.2L250.6 800L268.6 800Z"/>
<path d="M259.7 799V804.4H290.2" fill="none" stroke="#000" stroke-width="1.85"/>
<text transform="translate(301.72 808.50) scale(0.9746 1)" font-size="19.5" font-style="italic">FTI</text>
<text transform="translate(340.35 808.50) scale(1.0249 1)" font-size="19.5" font-style="italic">stopped</text>
</g>
<g id="legendB" filter="url(#bold)">
<line x1="264.50" y1="591.80" x2="319.20" y2="591.80" stroke="#000" stroke-width="1.7"/>
<rect x="285.80" y="585.50" width="12.40" height="12.40"/>
<text transform="translate(325.33 599.80) scale(1.0500 1)" font-size="20.5" letter-spacing="0.417">vehicle</text>
<text transform="translate(406.67 599.80) scale(1.0500 1)" font-size="20.5" letter-spacing="0.743">(n=9)</text>
<line x1="264.50" y1="651.10" x2="319.20" y2="651.10" stroke="#000" stroke-width="1.7"/>
<path d="M286.94 651.20L292.00 646.15L297.06 651.20L292.00 656.25Z" stroke="#000" stroke-width="2.69" stroke-linejoin="round"/>
<text transform="translate(324.77 659.70) scale(1.0500 1)" font-size="21.5" letter-spacing="0.430">SCH</text>
<text transform="translate(381.55 659.70) scale(1.0500 1)" font-size="21.5" letter-spacing="0.110">66336</text>
<text transform="translate(455.13 659.70) scale(1.0500 1)" font-size="21" letter-spacing="0.225">(n=15)</text>
</g>
<g id="serifmask" fill="#fff"><rect x="23.19" y="45.49" width="3.94" height="3.56"/><rect x="30.04" y="45.49" width="3.78" height="3.56"/><rect x="153.99" y="358.44" width="3.94" height="3.56"/><rect x="160.84" y="358.44" width="3.78" height="3.56"/><rect x="210.70" y="358.44" width="3.94" height="3.56"/><rect x="217.55" y="358.44" width="3.78" height="3.56"/><rect x="401.31" y="39.61" width="3.79" height="3.59"/><rect x="407.94" y="39.61" width="3.64" height="3.59"/><rect x="358.24" y="92.01" width="4.38" height="3.59"/><rect x="365.75" y="92.01" width="4.20" height="3.59"/><rect x="401.31" y="92.01" width="3.79" height="3.59"/><rect x="407.94" y="92.01" width="3.64" height="3.59"/><rect x="401.31" y="144.41" width="3.79" height="3.59"/><rect x="407.94" y="144.41" width="3.64" height="3.59"/><rect x="401.31" y="196.81" width="3.79" height="3.59"/><rect x="407.94" y="196.81" width="3.64" height="3.59"/><rect x="479.84" y="196.93" width="4.22" height="3.67"/><rect x="487.11" y="196.93" width="4.04" height="3.67"/><rect x="22.89" y="501.49" width="3.94" height="3.56"/><rect x="29.74" y="501.49" width="3.78" height="3.56"/><rect x="145.19" y="777.44" width="3.94" height="3.56"/><rect x="152.04" y="777.44" width="3.78" height="3.56"/><rect x="201.20" y="777.44" width="3.94" height="3.56"/><rect x="208.05" y="777.44" width="3.78" height="3.56"/><rect x="451.30" y="781.84" width="3.62" height="3.56"/><rect x="457.67" y="781.84" width="3.47" height="3.56"/><rect x="489.10" y="657.23" width="4.22" height="3.67"/><rect x="496.37" y="657.23" width="4.04" height="3.67"/></g>
</svg>
</body>
</html>
